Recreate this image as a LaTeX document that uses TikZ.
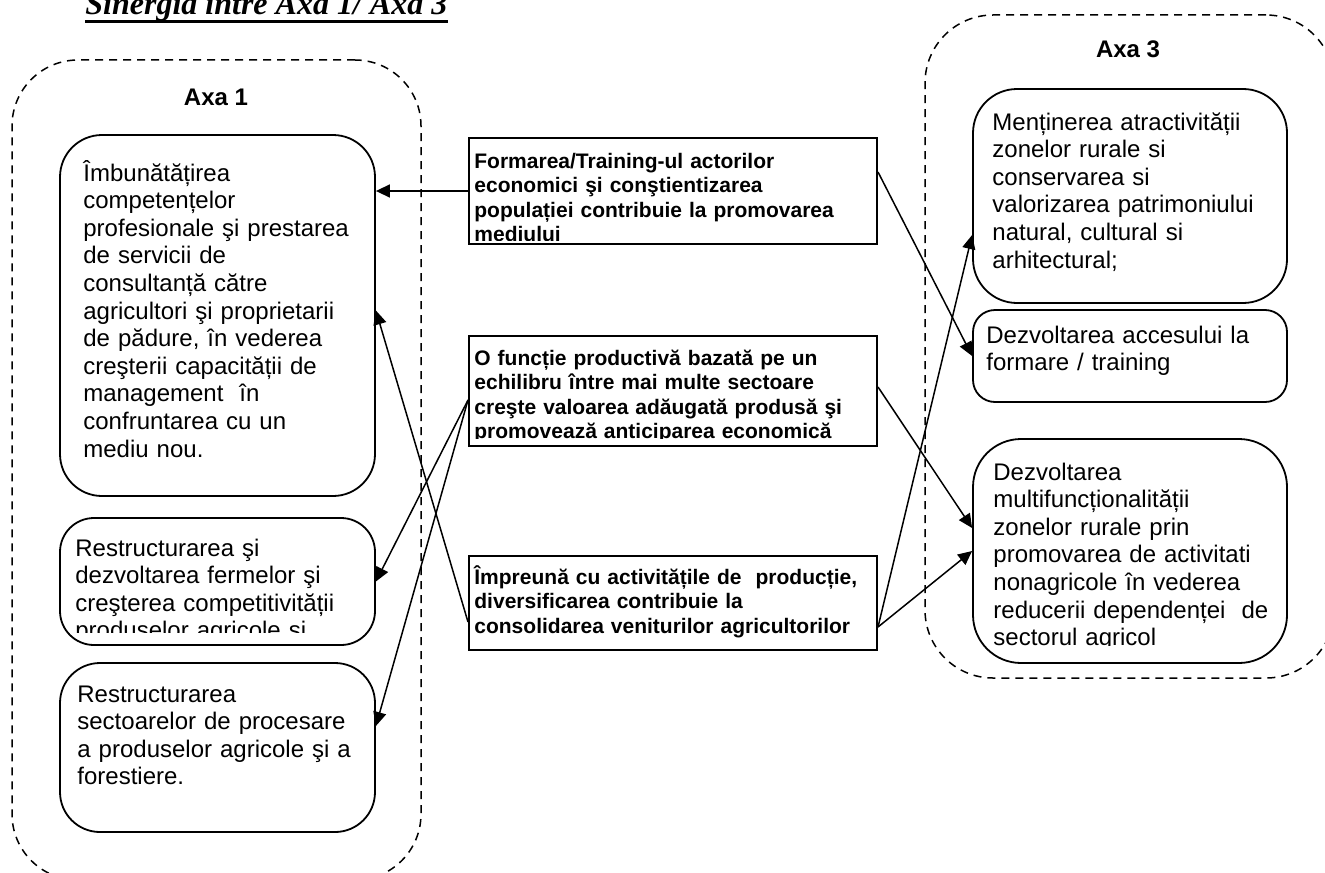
\documentclass[tikz,border=0pt]{standalone}
\usepackage{fontspec}
\setmainfont{Liberation Sans}
\newfontfamily\titlufont{Liberation Serif}
\usetikzlibrary{arrows.meta,fit}

\begin{document}
\begin{tikzpicture}[x=0.5pt, y=-0.5pt,
	axa/.style = {draw, dash pattern=on 4pt off 3pt, line width=0.75pt,
		rounded corners=33pt, inner sep=0pt},
	eticheta/.style = {anchor=base, font=\bfseries\fontsize{12}{14}\selectfont},
	rotund/.style = {draw, line width=0.9pt, inner sep=0pt},
	drept/.style = {draw, line width=1pt, inner sep=0pt},
	txt/.style = {anchor=base west, inner sep=0pt, text width=240pt, align=left,
		font=\fontsize{12}{13.8}\selectfont},
	txtb/.style = {txt, font=\bfseries\fontsize{10.5}{12.3}\selectfont},
	sageata/.style = {line width=0.75pt, -{Triangle[length=7pt,width=6.5pt]}}]
	\clip (0,0) rectangle (1325,872);

	\node[anchor=base west, inner sep=0pt,
		font=\titlufont\bfseries\itshape\fontsize{16}{18}\selectfont] (titlu) at (85,15)
		{Sinergia între Axa 1/ Axa 3};
	\draw[line width=1.5pt] ([yshift=-3.3pt]titlu.base west) -- ([yshift=-3.3pt]titlu.base east);

	% Axa 1
	\node[axa, fit={(12,60) (421,880)}] (axa1) {};
	\node[eticheta] (axa1T) at (216,105) {Axa 1};
	\node[rotund, rounded corners=21pt, fit={(60,135) (375,496)}] (imbun) {};
	\node[txt] (imbunT) at (83,181) {Îmbunătățirea\\ competențelor\\ profesionale şi prestarea\\
		de servicii de\\ consultanță către\\ agricultori şi proprietarii\\ de pădure, în vederea\\
		creşterii capacității de\\ management~ în\\ confruntarea cu un\\ mediu nou.};
	\node[rotund, rounded corners=17pt, fit={(60,518) (375,645)}] (ferme) {};
	\begin{scope}
		\clip (60,518) rectangle (375,632);
		\node[txt] (fermeT) at (75,556) {Restructurarea şi\\ dezvoltarea fermelor şi\\
			creşterea competitivității\\ produselor agricole şi};
	\end{scope}
	\node[rotund, rounded corners=20pt, fit={(60,663) (375,832)}] (procesare) {};
	\node[txt] (procesareT) at (77,702) {Restructurarea\\ sectoarelor de procesare\\
		a produselor agricole şi a\\ forestiere.};

	% mijloc
	\node[drept, fit={(469,138) (877,244)}] (formare) {};
	\begin{scope}
		\clip (469,138) rectangle (877,240);
		\node[txtb] (formareT) at (474,168) {Formarea/Training-ul actorilor\\
			economici şi conştientizarea\\ populației contribuie la promovarea\\ mediului};
	\end{scope}
	\node[drept, fit={(469,336) (877,446)}] (functie) {};
	\begin{scope}
		\clip (469,336) rectangle (877,438);
		\node[txtb] (functieT) at (474,365) {O funcție productivă bazată pe un\\
			echilibru între mai multe sectoare\\ creşte valoarea adăugată produsă şi\\
			promovează anticiparea economică};
	\end{scope}
	\node[drept, fit={(469,556) (877,650)}] (impreuna) {};
	\node[txtb] (impreunaT) at (474,584) {Împreună cu activitățile de~ producție,\\
		diversificarea contribuie la\\ consolidarea veniturilor agricultorilor};

	% Axa 3
	\node[axa, rounded corners=34pt, fit={(925,15) (1334,678)}] (axa3) {};
	\node[eticheta] (axa3T) at (1128,58) {Axa 3};
	\node[rotund, rounded corners=22pt, fit={(973,89) (1287,303)}] (mentinere) {};
	\node[txt] (mentinereT) at (992,130) {Menținerea atractivității\\ zonelor rurale si\\
		conservarea si\\ valorizarea patrimoniului\\ natural, cultural si\\ arhitectural;};
	\node[rotund, rounded corners=11pt, fit={(973,310) (1287,402)}] (acces) {};
	\node[txt] (accesT) at (986,343) {Dezvoltarea accesului la\\ formare / training};
	\node[rotund, rounded corners=24pt, fit={(973,439) (1287,663)}] (multi) {};
	\begin{scope}
		\clip (973,439) rectangle (1287,645);
		\node[txt] (multiT) at (993,480) {Dezvoltarea\\ multifuncționalității\\
			zonelor rurale prin\\ promovarea de activitati\\ nonagricole în vederea\\
			reducerii dependenței~ de\\ sectorul agricol};
	\end{scope}

	\draw[sageata] (formare.west) -- (imbun.east |- formare.west);
	\draw[sageata] ([shift={(0,-19)}]formare.east) -- (acces.west);
	\draw[sageata] ([shift={(0,9)}]functie.west) -- (ferme.east);
	\draw[sageata] ([shift={(0,9)}]functie.west) -- ([shift={(0,-21.5)}]procesare.east);
	\draw[sageata] ([shift={(0,-4)}]functie.east) -- ([shift={(0,-23)}]multi.west);
	\draw[sageata] ([shift={(0,19)}]impreuna.west) -- ([shift={(0,-5)}]imbun.east);
	\draw[sageata] ([shift={(0,24)}]impreuna.east) -- ([shift={(0,39)}]mentinere.west);
	\draw[sageata] ([shift={(0,24)}]impreuna.east) -- (multi.west);
\end{tikzpicture}
\end{document}
